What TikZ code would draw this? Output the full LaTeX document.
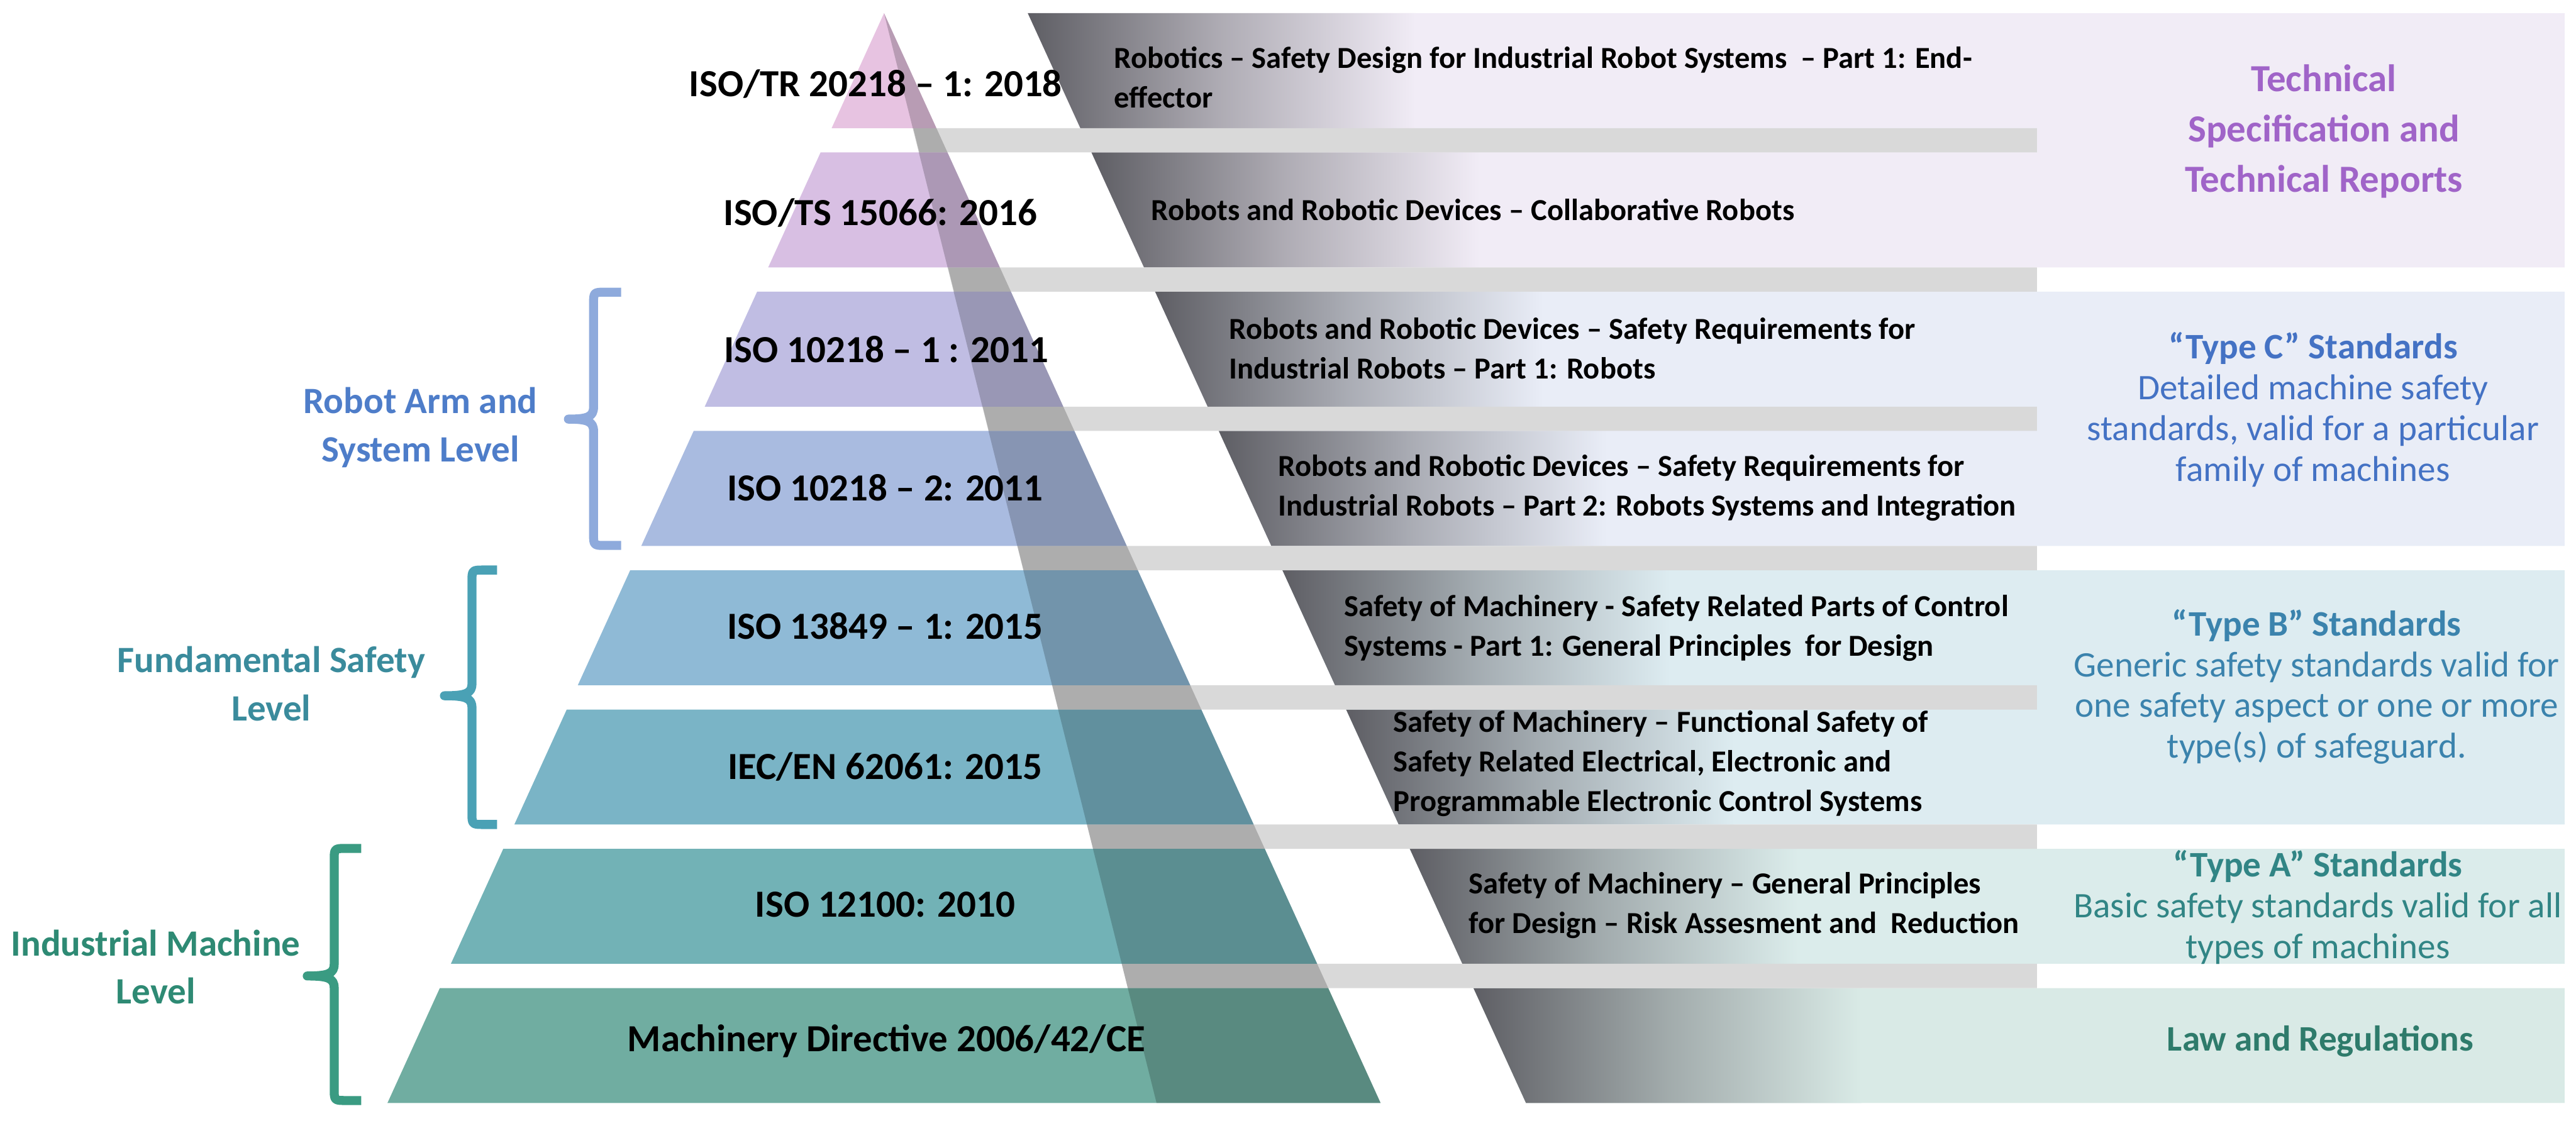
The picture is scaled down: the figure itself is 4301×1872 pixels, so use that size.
\documentclass[tikz,border=0pt]{standalone}
\usepackage{fontspec}
\setmainfont{Carlito}
\definecolor{tA}{HTML}{E7C3E1}
\definecolor{tB}{HTML}{D8BFE3}
\definecolor{tC}{HTML}{C0BDE3}
\definecolor{tD}{HTML}{A9BBE0}
\definecolor{tE}{HTML}{8FBAD6}
\definecolor{tF}{HTML}{7AB4C6}
\definecolor{tG}{HTML}{72B2B6}
\definecolor{tH}{HTML}{70ADA1}
\definecolor{pA}{HTML}{F1ECF6}
\definecolor{pB}{HTML}{E9EDF7}
\definecolor{pC}{HTML}{DDECF1}
\definecolor{pD}{HTML}{DBECEB}
\definecolor{pE}{HTML}{D9EAE6}
\definecolor{gbar}{HTML}{D9D9D9}
\definecolor{gdark}{HTML}{5E5E64}
\definecolor{cPurple}{HTML}{A064C8}
\definecolor{cBlue}{HTML}{4472C4}
\definecolor{cSteel}{HTML}{3B83AD}
\definecolor{cTeal}{HTML}{318585}
\definecolor{cGreen}{HTML}{2E7B6B}
\definecolor{lBlue}{HTML}{4E7DC9}
\definecolor{lTeal}{HTML}{3A8B9C}
\definecolor{lGreen}{HTML}{2E8A74}
\definecolor{bBlue}{HTML}{8EAADC}
\definecolor{bTeal}{HTML}{4AA1B5}
\definecolor{bGreen}{HTML}{3A9B82}
\begin{document}
\begin{tikzpicture}[x=0.5pt,y=-0.5pt,
  pyr/.style={font=\bfseries\fontsize{32}{38}\selectfont, text=black, inner sep=0pt},
  desc/.style={font=\bfseries\fontsize{25.5}{33}\selectfont, text=black, align=left, anchor=west, inner sep=0pt},
  cat/.style={font=\fontsize{30}{34}\selectfont, align=center, inner sep=0pt},
  lvl/.style={font=\bfseries\fontsize{31}{40}\selectfont, align=center, inner sep=0pt},
  lbrace/.style={line width=7.5pt, line cap=butt, line join=round}
]
\useasboundingbox (0,0) rectangle (4301,1872);
% right panels (tinted), slanted left edge
\foreach \ta/\tb/\col in {22/446.6/pA, 487.2/911.8/pB, 952.4/1377/pC, 1417.6/1609.6/pD, 1650.2/1842.2/pE}{
  \fill[\col] ({1716+0.457*(\ta-22)},\ta) -- (4282,\ta) -- (4282,\tb) -- ({1716+0.457*(\tb-22)},\tb) -- cycle;
}
% gradient bands per row
\foreach \i/\col in {1/pA,2/pA,3/pB,4/pB,5/pC,6/pC,7/pD,8/pE}{
  \pgfmathsetmacro\ta{22+232.6*(\i-1)}
  \pgfmathsetmacro\tb{\ta+192}
  \shade[left color=gdark, right color=\col, middle color=\col!55!gdark]
    ({1716+0.457*(\ta-22)},\ta) -- ({1716+0.457*(\tb-22)+560},\ta) -- ({1716+0.457*(\tb-22)+560},\tb) -- ({1716+0.457*(\tb-22)},\tb) -- cycle;
}
% gray bars in the gaps
\foreach \i in {1,...,7}{
  \pgfmathsetmacro\ga{22+232.6*(\i-1)+192}
  \pgfmathsetmacro\gb{22+232.6*\i}
  \fill[gbar] ({1477+0.2493*(\ga-22)},\ga) -- (3401,\ga) -- (3401,\gb) -- ({1477+0.2493*(\gb-22)},\gb) -- cycle;
}
% pyramid tiers
\foreach \i/\col in {1/tA,2/tB,3/tC,4/tD,5/tE,6/tF,7/tG,8/tH}{
  \pgfmathsetmacro\ta{22+232.6*(\i-1)}
  \pgfmathsetmacro\tb{\ta+192}
  \fill[\col] ({1476-0.4555*(\ta-22)},\ta) -- ({1476+0.4555*(\ta-22)},\ta) -- ({1476+0.4555*(\tb-22)},\tb) -- ({1476-0.4555*(\tb-22)},\tb) -- cycle;
}
% dark translucent overlay
\fill[black, opacity=0.2] (1476,22) -- (2305.1,1842.2) -- (1931,1842.2) -- cycle;

% pyramid labels
\node[pyr] (p1) at (1462,140) {ISO/TR 20218 – 1: 2018};
\node[pyr] (p2) at (1470,355) {ISO/TS 15066: 2016};
\node[pyr] (p3) at (1480,584) {ISO 10218 – 1 : 2011};
\node[pyr] (p4) at (1478,815) {ISO 10218 – 2: 2011};
\node[pyr] (p5) at (1478,1046) {ISO 13849 – 1: 2015};
\node[pyr] (p6) at (1478,1281) {IEC/EN 62061: 2015};
\node[pyr] (p7) at (1478,1511) {ISO 12100: 2010};
\node[pyr] (p8) at (1480,1739) {Machinery Directive 2006/42/CE};

% descriptions
\node[desc] (d1) at (1860,129) {Robotics – Safety Design for Industrial Robot Systems \ – Part 1: End-\\effector};
\node[desc] (d2) at (1922,350) {Robots and Robotic Devices – Collaborative Robots};
\node[desc] (d3) at (2052,582) {Robots and Robotic Devices – Safety Requirements for\\Industrial Robots – Part 1: Robots};
\node[desc] (d4) at (2134,815) {Robots and Robotic Devices – Safety Requirements for\\Industrial Robots – Part 2: Robots Systems and Integration};
\node[desc] (d5) at (2244,1049) {Safety of Machinery - Safety Related Parts of Control\\Systems - Part 1: General Principles \ for Design};
\node[desc] (d6) at (2326,1275) {Safety of Machinery – Functional Safety of\\Safety Related Electrical, Electronic and\\Programmable Electronic Control Systems};
\node[desc] (d7) at (2452,1512) {Safety of Machinery – General Principles\\for Design – Risk Assesment and \ Reduction};

% category labels
\node[cat, text=cPurple, font=\bfseries\fontsize{32}{42}\selectfont] (c1) at (3880,219) {Technical\\Specification and\\Technical Reports};
\node[cat, text=cBlue] (c2) at (3862,684) {\textbf{“Type C” Standards}\\Detailed machine safety\\standards, valid for a particular\\family of machines};
\node[cat, text=cSteel] (c3) at (3868,1147) {\textbf{“Type B” Standards}\\Generic safety standards valid for\\one safety aspect or one or more\\type(s) of safeguard.};
\node[cat, text=cTeal] (c4) at (3870,1515) {\textbf{“Type A” Standards}\\Basic safety standards valid for all\\types of machines};
\node[cat, text=cGreen, font=\bfseries\fontsize{30}{34}\selectfont] (c5) at (3874,1739) {Law and Regulations};

% level labels
\node[lvl, text=lBlue] (l1) at (702,714) {Robot Arm and\\System Level};
\node[lvl, text=lTeal] (l2) at (453,1142) {Fundamental Safety\\Level};
\node[lvl, text=lGreen] (l3) at (260,1615) {Industrial Machine\\Level};

% braces
\draw[lbrace, bBlue] (1037,488) -- (1011,488) .. controls (991,488) .. (991,508) -- (991,680) .. controls (991,696) and (981,700) .. (949,700) .. controls (981,700) and (991,704) .. (991,720) -- (991,891) .. controls (991,911) .. (1011,911) -- (1037,911);
\draw[lbrace, bTeal] (830,952) -- (808,952) .. controls (788,952) .. (788,972) -- (788,1142) .. controls (788,1158) and (778,1162) .. (742,1162) .. controls (778,1162) and (788,1166) .. (788,1182) -- (788,1357) .. controls (788,1377) .. (808,1377) -- (830,1377);
\draw[lbrace, bGreen] (603,1417) -- (578,1417) .. controls (558,1417) .. (558,1437) -- (558,1610) .. controls (558,1626) and (548,1630) .. (513,1630) .. controls (548,1630) and (558,1634) .. (558,1650) -- (558,1818) .. controls (558,1838) .. (578,1838) -- (603,1838);
\end{tikzpicture}
\end{document}
